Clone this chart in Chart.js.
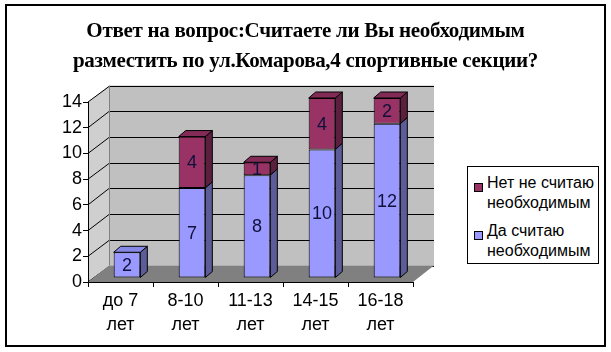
<!DOCTYPE html>
<html><head><meta charset="utf-8">
<script src="https://cdn.jsdelivr.net/npm/chart.js@4/dist/chart.umd.min.js"></script>
<style>
html,body{margin:0;padding:0;background:#fff;}
#wrap{position:relative;width:611px;height:352px;overflow:hidden;}
#frame{position:absolute;left:5px;top:4px;width:597px;height:339px;border:2px solid #000;box-sizing:content-box;pointer-events:none;}
#title{position:absolute;left:0;top:15px;width:611px;text-align:center;font:bold 21px "Liberation Serif","Times New Roman",serif;line-height:30px;color:#000;letter-spacing:-0.3px;}
#legend{position:absolute;left:467px;top:166px;width:130px;height:96px;border:1px solid #000;background:#fff;font:16px "Liberation Sans",Arial,sans-serif;color:#000;}
.li{position:absolute;left:0;width:130px;}
.sw{position:absolute;left:6px;width:7px;height:7px;border:1px solid #000;}
.tx{position:absolute;left:19px;line-height:20px;white-space:nowrap;}
canvas{position:absolute;left:0;top:0;}
</style></head>
<body>
<div id="wrap">
<canvas id="c" width="611" height="352"></canvas>
<div id="title">Ответ на вопрос:Считаете ли Вы необходимым<br>разместить по ул.Комарова,4 спортивные секции?</div>
<div id="legend"></div>
<div id="frame"></div>
</div>
<script>
// ---- data ----
const categories = [["до 7","лет"],["8-10","лет"],["11-13","лет"],["14-15","лет"],["16-18","лет"]];
const seriesNames = ["Да считаю необходимым","Нет не считаю необходимым"];
const legendLines = [["Да считаю","необходимым"],["Нет не считаю","необходимым"]];
const yesValues = [2,7,8,10,12];
const noValues = [null,4,1,4,2];
const yTicks = [0,2,4,6,8,10,12,14];

// ---- style ----
const frontColors = ["#9999FF","#993366"];
const topColors = ["#8888E6","#832B57"];
const sideColors = ["#5C5C99","#5C1F3D"];
const WALL_DX = 21, WALL_DY = -16.5;   // depth of walls/floor
const BAR_SHIFT_X = 6.5, BAR_SHIFT_Y = -4; // bar plane position inside depth
const BAR_DX = 7, BAR_DY = -6;         // bar depth

const threeD = {
  id:'threeD',
  beforeDraw(chart){
    const ctx = chart.ctx, a = chart.chartArea, ys = chart.scales.y;
    const L=a.left, R=a.right, T=ys.getPixelForValue(14), B=ys.getPixelForValue(0);
    ctx.save();
    ctx.fillStyle='#C0C0C0';
    ctx.fillRect(L+WALL_DX, T+WALL_DY, R-L, B-T);
    ctx.fillStyle='#CFCFCF';
    ctx.beginPath();
    ctx.moveTo(L,B);ctx.lineTo(L,T);ctx.lineTo(L+WALL_DX,T+WALL_DY);ctx.lineTo(L+WALL_DX,B+WALL_DY);ctx.closePath();ctx.fill();
    ctx.strokeStyle='#000';ctx.lineWidth=1;
    yTicks.forEach(v=>{
      const y=Math.round(ys.getPixelForValue(v)+WALL_DY)+0.5;
      const y0=ys.getPixelForValue(v);
      ctx.beginPath();
      ctx.moveTo(L,y0);ctx.lineTo(L+WALL_DX,y);ctx.lineTo(R+WALL_DX,y);ctx.stroke();
    });
    ctx.strokeStyle='#808080';
    ctx.beginPath();
    ctx.moveTo(L+WALL_DX+0.5,B+WALL_DY);ctx.lineTo(L+WALL_DX+0.5,T+WALL_DY);
    ctx.stroke();
    ctx.fillStyle='#808080';
    ctx.beginPath();
    ctx.moveTo(L,B);ctx.lineTo(R,B);ctx.lineTo(R+WALL_DX,B+WALL_DY);ctx.lineTo(L+WALL_DX,B+WALL_DY);ctx.closePath();ctx.fill();
    ctx.restore();
  },
  beforeDatasetsDraw(chart){
    chart.ctx.save();
    chart.ctx.translate(BAR_SHIFT_X, BAR_SHIFT_Y);
  },
  afterDatasetDraw(chart, args){
    const ctx=chart.ctx, di=args.index, meta=args.meta;
    meta.data.forEach((el,i)=>{
      const v = chart.data.datasets[di].data[i];
      if(v===null||v===undefined) return;
      const p = el.getProps(['x','y','base','width'],true);
      const l=p.x-p.width/2, r=p.x+p.width/2, t=p.y, b=p.base;
      ctx.save();
      ctx.strokeStyle='#000';ctx.lineWidth=1;ctx.lineJoin='round';
      ctx.fillStyle=sideColors[di];
      ctx.beginPath();
      ctx.moveTo(r,t);ctx.lineTo(r+BAR_DX,t+BAR_DY);ctx.lineTo(r+BAR_DX,b+BAR_DY);ctx.lineTo(r,b);ctx.closePath();
      ctx.fill();ctx.stroke();
      let topmost = true;
      for(let k=di+1;k<chart.data.datasets.length;k++){
        const w=chart.data.datasets[k].data[i];
        if(w!==null&&w!==undefined&&w!==0) topmost=false;
      }
      if(topmost){
        ctx.fillStyle=topColors[di];
        ctx.beginPath();
        ctx.moveTo(l,t);ctx.lineTo(l+BAR_DX,t+BAR_DY);ctx.lineTo(r+BAR_DX,t+BAR_DY);ctx.lineTo(r,t);ctx.closePath();
        ctx.fill();ctx.stroke();
      }
      ctx.restore();
    });
  },
  afterDatasetsDraw(chart){
    const ctx=chart.ctx;
    ctx.save();
    ctx.font='18px "Liberation Sans", Arial, sans-serif';
    ctx.fillStyle='#10103A';
    ctx.textAlign='center';ctx.textBaseline='middle';
    chart.data.datasets.forEach((ds,di)=>{
      chart.getDatasetMeta(di).data.forEach((el,i)=>{
        const v=ds.data[i];
        if(v===null||v===undefined||v===0) return;
        const p=el.getProps(['x','y','base'],true);
        ctx.fillText(String(v), p.x, (p.y+p.base)/2+1);
      });
    });
    ctx.restore();
    ctx.restore();
  }
};

new Chart(document.getElementById('c'),{
  type:'bar',
  data:{
    labels:categories,
    datasets:[
      {label:seriesNames[0],data:yesValues,backgroundColor:frontColors[0],borderColor:'#000',borderWidth:1,borderSkipped:false,clip:false},
      {label:seriesNames[1],data:noValues,backgroundColor:frontColors[1],borderColor:'#000',borderWidth:1,borderSkipped:false,clip:false}
    ]
  },
  options:{
    responsive:false,animation:false,devicePixelRatio:1,
    layout:{padding:{left:48,top:102,right:198,bottom:10}},
    plugins:{legend:{display:false},title:{display:false},tooltip:{enabled:false}},
    datasets:{bar:{categoryPercentage:0.41,barPercentage:1}},
    scales:{
      x:{stacked:true,
        grid:{display:true,drawOnChartArea:false,drawTicks:true,tickLength:5,color:'#000',offset:true},
        border:{display:true,color:'#000',width:1},
        ticks:{font:{family:'"Liberation Sans", Arial, sans-serif',size:18,lineHeight:1.35},color:'#000',padding:2,maxRotation:0,autoSkip:false},
        afterFit(s){s.height=60;}
      },
      y:{stacked:true,min:0,max:14,
        afterBuildTicks(s){s.ticks=yTicks.map(v=>({value:v}));},
        grid:{display:true,drawOnChartArea:false,drawTicks:true,tickLength:5,color:'#000'},
        border:{display:true,color:'#000',width:1},
        ticks:{font:{family:'"Liberation Sans", Arial, sans-serif',size:18},color:'#000',padding:1},
        afterFit(s){s.width=40;}
      }
    }
  },
  plugins:[threeD]
});

const lg=document.getElementById('legend');
[1,0].forEach((di,k)=>{
  const top = 6 + k*48;
  const item=document.createElement('div');item.className='li';item.style.top=top+'px';
  const sw=document.createElement('div');sw.className='sw';sw.style.top='10px';sw.style.background=frontColors[di];
  const tx=document.createElement('div');tx.className='tx';tx.style.top='0px';
  tx.innerHTML=legendLines[di].join('<br>');
  item.appendChild(sw);item.appendChild(tx);lg.appendChild(item);
});
</script>
</body></html>
